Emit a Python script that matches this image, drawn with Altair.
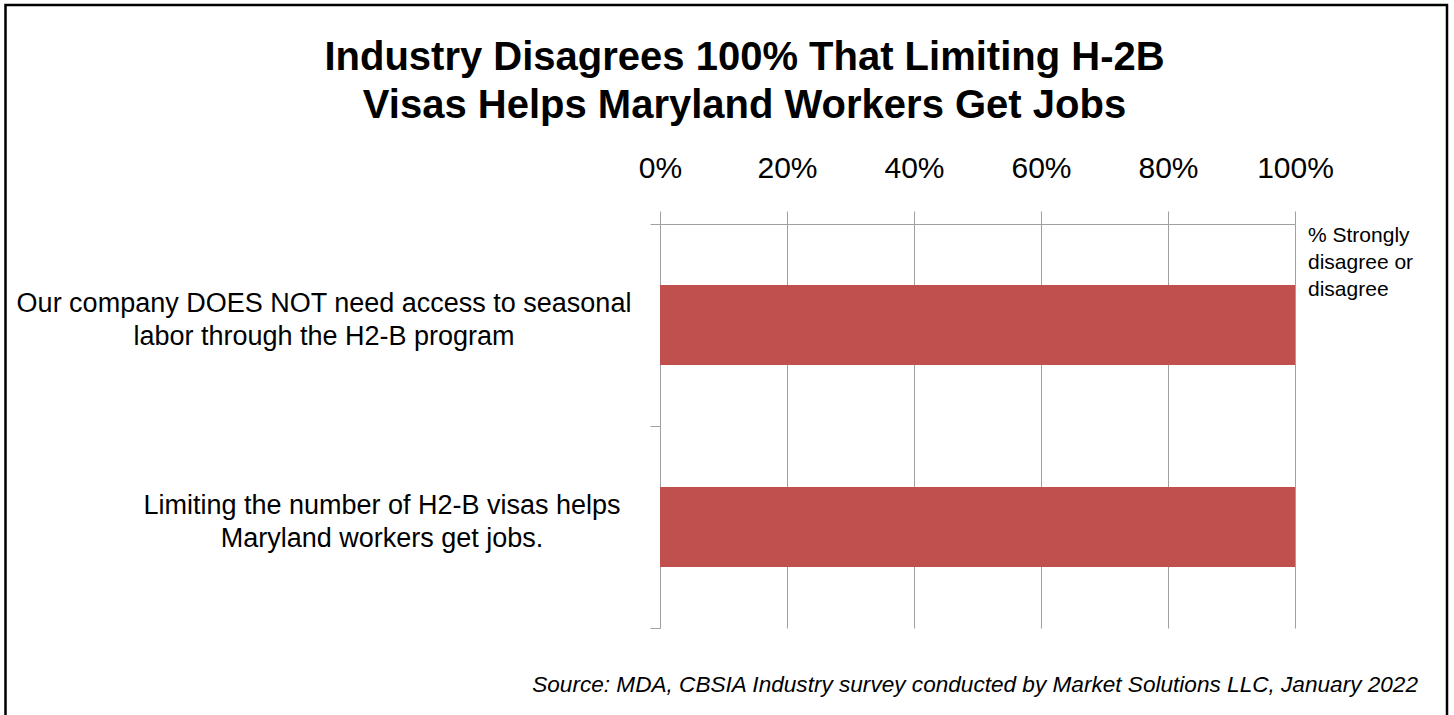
import altair as alt
import pandas as pd

# ---- data -------------------------------------------------------------
TITLE = ["Industry Disagrees 100% That Limiting H-2B",
         "Visas Helps Maryland Workers Get Jobs"]
statements = [
    "Our company DOES NOT need access to seasonal|labor through the H2-B program",
    "Limiting the number of H2-B visas helps|Maryland workers get jobs.",
]
values = [100, 100]
series_lines = ["% Strongly", "disagree or", "disagree"]
x_ticks = [0, 20, 40, 60, 80, 100]
SOURCE = "Source: MDA, CBSIA Industry survey conducted by Market Solutions LLC, January 2022"

df = pd.DataFrame({"statement": statements, "pct": values})

FONT = "Liberation Sans"
W, H = 635, 404
GRAY = "#A0A0A0"
BAR = "#C0504D"

y_enc = alt.Y(
    "statement:N", sort=statements,
    scale=alt.Scale(paddingInner=0, paddingOuter=0),
    axis=alt.Axis(
        title=None, labels=False, domainColor=GRAY, tickColor=GRAY,
        tickSize=10, tickBand="extent", grid=False,
    ),
)

bars = alt.Chart(df).mark_bar(size=80, color=BAR).encode(
    y=y_enc,
    x=alt.X(
        "pct:Q", scale=alt.Scale(domain=[0, 100], nice=False),
        axis=alt.Axis(
            orient="top", title=None, values=x_ticks,
            domainColor=GRAY, tickColor=GRAY, tickSize=13,
            grid=True, gridColor=GRAY, gridWidth=1,
            labelFont=FONT, labelFontSize=30, labelColor="black",
            labelPadding=28, labelFlush=False,
            labelExpr="datum.value + '%'",
        ),
    ),
)


def statement_label(i, xpos):
    return alt.Chart(df).transform_filter(
        alt.datum.statement == statements[i]
    ).transform_calculate(
        lines="split(datum.statement, '|')"
    ).mark_text(
        font=FONT, fontSize=27, lineHeight=33, color="black",
        align="center", baseline="middle", dy=-21,
    ).encode(y=alt.Y("statement:N", sort=statements), x=alt.value(xpos),
             text="lines:N")


label_a = statement_label(0, -336)
label_b = statement_label(1, -278)

legend = alt.Chart(pd.DataFrame({"t": [0]})).mark_text(
    font=FONT, fontSize=21, color="black", align="left", baseline="alphabetic",
    lineHeight=27,
).encode(x=alt.value(648), y=alt.value(18), text=alt.value(series_lines))

title = alt.Chart(pd.DataFrame({"t": [0]})).mark_text(
    font=FONT, fontSize=40, fontWeight="bold", color="black",
    align="center", baseline="alphabetic", lineHeight=48,
).encode(x=alt.value(84.5), y=alt.value(-154), text=alt.value(TITLE))

source = alt.Chart(pd.DataFrame({"t": [SOURCE]})).mark_text(
    font=FONT, fontSize=22.6, fontStyle="italic", color="black",
    align="right", baseline="alphabetic",
).encode(x=alt.value(758), y=alt.value(468), text="t:N")

frame = alt.Chart(pd.DataFrame({"t": [0]})).mark_rect(
    filled=False, stroke="black", strokeWidth=2.5,
).encode(x=alt.value(-654.5), x2=alt.value(787), y=alt.value(-219),
         y2=alt.value(H + 120))

chart = alt.layer(frame, bars, label_a, label_b, legend, title, source).properties(
    width=W, height=H,
    padding={"left": 660, "top": 224, "right": 159, "bottom": 87},
    autosize=alt.AutoSizeParams(type="none"),
    background="white",
).configure_view(stroke=None)

chart.save("out.html", embed_options={"renderer": "svg", "actions": False})
